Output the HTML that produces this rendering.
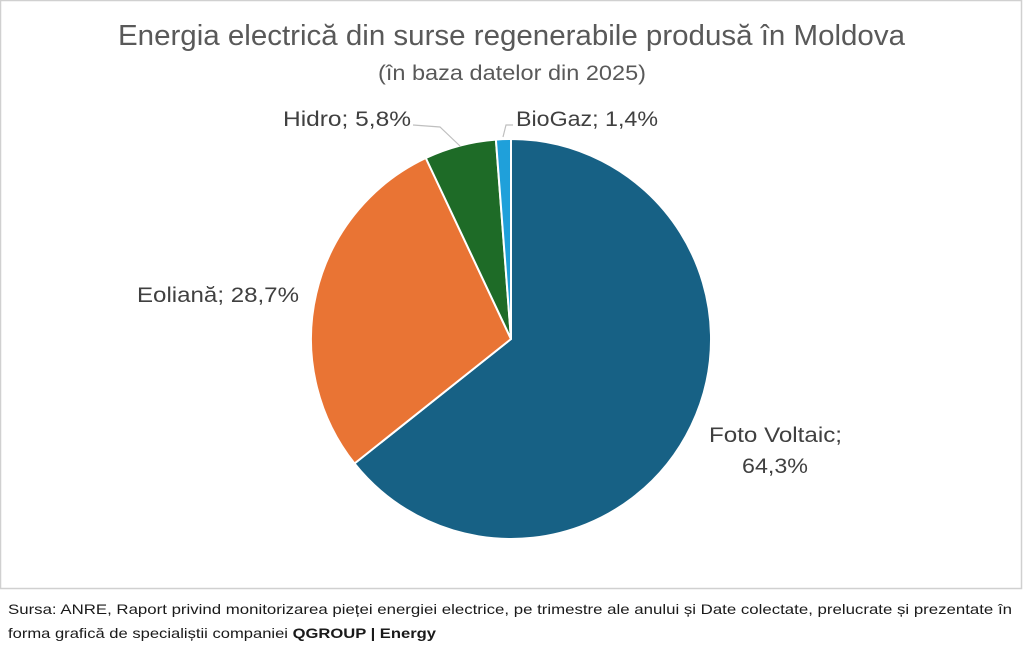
<!DOCTYPE html>
<html><head><meta charset="utf-8"><style>
html,body{margin:0;padding:0;background:#fff;}
svg{display:block;font-family:"Liberation Sans",sans-serif;}
</style></head><body>
<svg width="1023" height="651" viewBox="0 0 1023 651" xmlns="http://www.w3.org/2000/svg">
<rect x="0.5" y="0.5" width="1021" height="588" fill="#fff" stroke="#d0d0d0" stroke-width="1.5"/>
<text x="118" y="45" font-size="29" fill="#595959" textLength="787" lengthAdjust="spacingAndGlyphs">Energia electrică din surse regenerabile produsă în Moldova</text>
<text x="378" y="80" font-size="21" fill="#595959" textLength="268" lengthAdjust="spacingAndGlyphs">(în baza datelor din 2025)</text>
<g stroke="#fff" stroke-width="2" stroke-linejoin="round">
<path d="M511,339 L511,139 A200,200 0 1,1 354.5,463.5 Z" fill="#176185"/>
<path d="M511,339 L354.5,463.5 A200,200 0 0,1 425.8,158 Z" fill="#e97434"/>
<path d="M511,339 L425.8,158 A200,200 0 0,1 495.9,139.6 Z" fill="#1e6b27"/>
<path d="M511,339 L495.9,139.6 A200,200 0 0,1 511,139 Z" fill="#1fa0da"/>
</g>
<polyline points="413,125 440,127 460,146" fill="none" stroke="#bfbfbf" stroke-width="1.2"/>
<polyline points="503,137 506,125 513,125" fill="none" stroke="#bfbfbf" stroke-width="1.2"/>
<g font-size="21" fill="#404040" lengthAdjust="spacingAndGlyphs">
<text x="283" y="126" textLength="128" lengthAdjust="spacingAndGlyphs">Hidro; 5,8%</text>
<text x="516" y="126" textLength="142" lengthAdjust="spacingAndGlyphs">BioGaz; 1,4%</text>
<text x="137" y="302" textLength="162" lengthAdjust="spacingAndGlyphs">Eoliană; 28,7%</text>
<text x="709" y="442" textLength="133" lengthAdjust="spacingAndGlyphs">Foto Voltaic;</text>
<text x="742" y="473" textLength="66" lengthAdjust="spacingAndGlyphs">64,3%</text>
</g>
<g font-size="14" fill="#1a1a1a">
<text x="8" y="614" textLength="1004" lengthAdjust="spacingAndGlyphs">Sursa: ANRE, Raport privind monitorizarea pieței energiei electrice, pe trimestre ale anului și Date colectate, prelucrate și prezentate în</text>
<text x="8" y="638" textLength="428" lengthAdjust="spacingAndGlyphs">forma grafică de specialiștii companiei <tspan font-weight="bold">QGROUP | Energy</tspan></text>
</g>
</svg>
</body></html>
